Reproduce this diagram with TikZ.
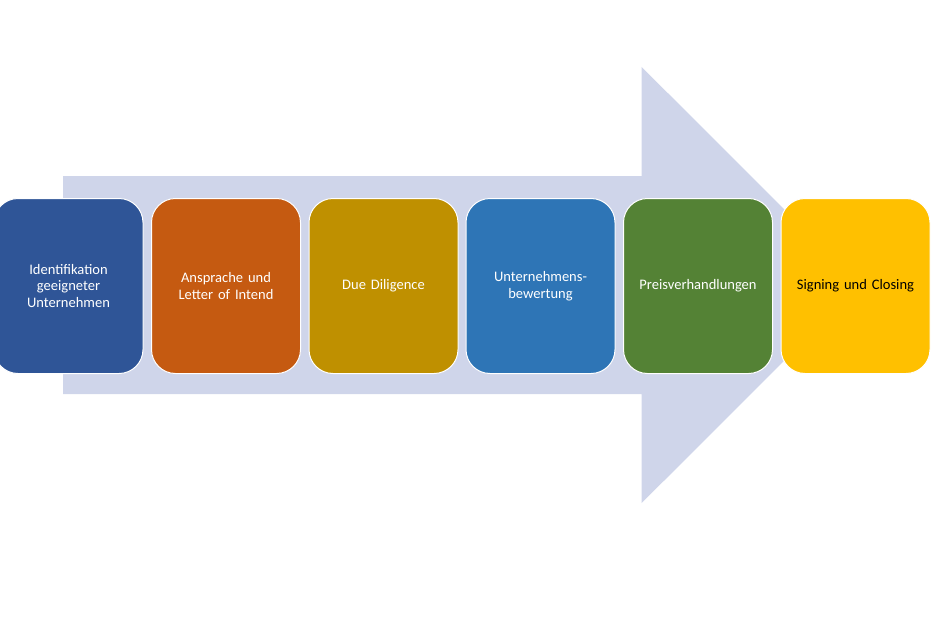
\documentclass[tikz,border=0pt]{standalone}
\usepackage{fontspec}
\setmainfont{Carlito}
\definecolor{arrowc}{HTML}{CFD5EA}
\definecolor{c1}{HTML}{2F5597}
\definecolor{c2}{HTML}{C55A11}
\definecolor{c3}{HTML}{BF9000}
\definecolor{c4}{HTML}{2E75B6}
\definecolor{c5}{HTML}{548235}
\definecolor{c6}{HTML}{FFC000}
\tikzset{
  stepbox/.style={draw=white, line width=0.75pt, rounded corners=18pt,
    minimum width=111.75pt, minimum height=131.25pt, text width=104pt,
    align=center, font=\fontsize{10.9pt}{12.4pt}\selectfont, text=white, inner sep=0pt},
}
\begin{document}
\begin{tikzpicture}[x=0.75pt,y=-0.75pt]
\useasboundingbox (0,0) rectangle (944,638);
\clip (0,0) rectangle (944,638);
\fill[arrowc] (63,176) -- (641.7,176) -- (641.7,67) -- (860,285) -- (641.7,503) -- (641.7,394) -- (63,394) -- cycle;
\node[stepbox, fill=c1] (s1) at (68.5,286) {Identifikation\\geeigneter\\Unternehmen};
\node[stepbox, fill=c2] (s2) at (226,286) {Ansprache und\\Letter of Intend};
\node[stepbox, fill=c3] (s3) at (383.5,286) {Due Diligence};
\node[stepbox, fill=c4] (s4) at (540.5,286) {Unternehmens-\\bewertung};
\node[stepbox, fill=c5] (s5) at (698,286) {Preisverhandlungen};
\node[stepbox, fill=c6, text=black] (s6) at (855.5,286) {Signing und Closing};
\end{tikzpicture}
\end{document}
